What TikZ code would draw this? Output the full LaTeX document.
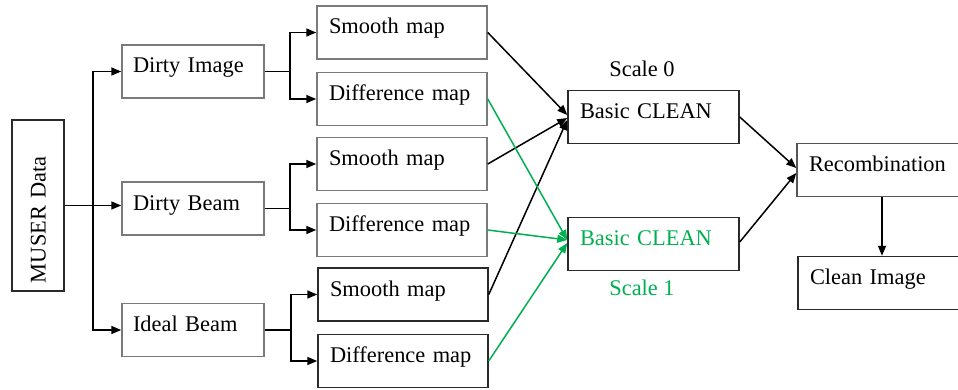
\documentclass[tikz,border=0pt]{standalone}
\usepackage{fontspec}
\setmainfont{Liberation Serif}
\usetikzlibrary{arrows.meta}
\definecolor{cgreen}{HTML}{00B050}
\definecolor{lightedge}{HTML}{7A7A7A}
\definecolor{darkedge}{HTML}{2A2A2A}
\begin{document}
\begin{tikzpicture}[x=0.5pt,y=-0.5pt,
  font=\fontsize{11.2}{13}\selectfont,
  box/.style={draw=lightedge, line width=0.75pt, inner xsep=6pt, align=left,
    text height=8pt, text depth=6.5pt, minimum height=26.5pt},
  dbox/.style={box, draw=darkedge},
  mapw/.style={text width=73pt},
  bcw/.style={text width=73.5pt},
  arr/.style={line width=0.75pt, -{Triangle[length=5pt,width=4pt]}},
  ln/.style={line width=0.75pt}]
\useasboundingbox (0,0) rectangle (958,390);
\clip (0,0) rectangle (958,390);
% input
\node[dbox, rotate=90, text width=77.5pt, inner xsep=4pt, minimum height=26pt,
  text height=7.5pt, text depth=0pt] (M) at (38,205.5) {MUSER Data};
% first stage
\node[box, text width=60pt, inner xsep=5.5pt] (DI) at (193,71.5) {Dirty Image};
\node[box, text width=60pt, inner xsep=5.5pt] (DB) at (193,208.5) {Dirty Beam};
\node[box, text width=60pt, inner xsep=5.5pt] (IB) at (193,330) {Ideal Beam};
% maps
\node[box, mapw] (S1) at (402,32.5) {Smooth map};
\node[box, mapw] (D1) at (402,99) {Difference map};
\node[box, mapw] (S2) at (402,164) {Smooth map};
\node[box, mapw] (D2) at (402,230) {Difference map};
\node[dbox, mapw] (S3) at (403,294.5) {Smooth map};
\node[dbox, mapw] (D3) at (403,361) {Difference map};
% clean
\node[dbox, bcw] (BC0) at (653.5,117) {Basic CLEAN};
\node[dbox, bcw, text=cgreen] (BC1) at (653.5,244) {Basic CLEAN};
\node (SC0) at (642,69) {Scale 0};
\node[text=cgreen] (SC1) at (642,288) {Scale 1};
% output
\node[box, draw=darkedge!80, text width=73pt] (R) at (882,170) {Recombination};
\node[dbox, text width=73pt] (CI) at (883,283) {Clean Image};
% trunk (rotated node: its south anchor is on the right side)
\coordinate (t) at (93,205.5);
\draw[arr] (M.south) -- (M.south -| DB.west);
\draw[arr] (t) |- (DI.west);
\draw[arr] (t) |- (IB.west);
% branches
\coordinate (b1) at (290,71.5);
\coordinate (b2) at (290,208.5);
\coordinate (b3) at (291,330);
\draw[ln] (DI.east) -- (b1);
\draw[arr] (b1) |- (S1.west);
\draw[arr] (b1) |- (D1.west);
\draw[ln] (DB.east) -- (b2);
\draw[arr] (b2) |- (S2.west);
\draw[arr] (b2) |- (D2.west);
\draw[ln] (IB.east) -- (b3);
\draw[arr] (b3) |- (S3.west);
\draw[arr] (b3) |- (D3.west);
% to scale 0
\draw[arr] (S1.east) -- ([yshift=1pt]BC0.west);
\draw[arr] (S2.east) -- ([yshift=-0.5pt]BC0.west);
\draw[arr] (S3.east) -- ([yshift=-1.5pt]BC0.west);
% to scale 1
\draw[arr, draw=cgreen] (D1.east) -- ([yshift=2pt]BC1.west);
\draw[arr, draw=cgreen] (D2.east) -- ([yshift=2pt]BC1.west);
\draw[arr, draw=cgreen] (D3.east) -- ([yshift=0.5pt]BC1.west);
% recombination
\draw[arr] ([yshift=0pt]BC0.east) -- ([yshift=1pt]R.west);
\draw[arr] ([yshift=1pt]BC1.east) -- ([yshift=-1.5pt]R.west);
\draw[arr] (R.south) -- (R.south |- CI.north);
\end{tikzpicture}
\end{document}
